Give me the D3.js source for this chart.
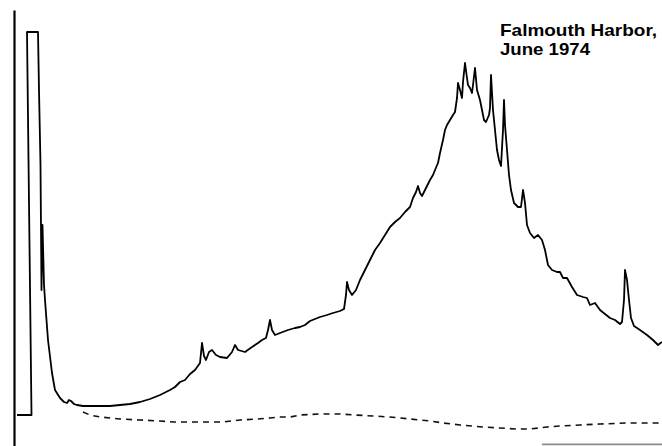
<!DOCTYPE html>
<html>
<head>
<meta charset="utf-8">
<script src="https://cdn.jsdelivr.net/npm/d3@7"></script>
<style>
  html, body { margin: 0; padding: 0; background: #fff; }
  svg { display: block; }
</style>
</head>
<body>
<svg id="chart" width="662" height="446"></svg>
<script>
// Falmouth Harbor, June 1974 — gas chromatogram trace (retention time in min, detector response in arbitrary units)

// sample trace: retention time
const sampleTime = [
  0.3, 1.75, 1.3, 2.4, 2.5, 2.65, 2.75, 2.85, 3.0, 3.1, 3.4, 3.8, 4.1, 4.6, 5.0, 5.3, 5.5, 5.7, 6.0, 6.3,
  6.9, 7.6, 8.6, 9.6, 10.6, 11.6, 12.6, 13.6, 14.6, 15.6, 16.1, 16.6, 17.1, 17.6, 18.1, 18.6, 18.8, 19.0, 19.2, 19.5,
  19.8, 20.2, 20.6, 21.3, 21.8, 22.1, 22.4, 23.1, 23.8, 24.4, 24.8, 25.2, 25.4, 25.6, 25.8, 26.1, 26.6, 27.4, 28.1, 28.6,
  29.1, 29.6, 30.1, 30.6, 31.3, 31.9, 32.6, 33.0, 33.2, 33.3, 33.5, 33.8, 34.2, 34.6, 35.1, 35.6, 36.1, 36.6, 37.1, 37.6,
  38.1, 38.6, 39.1, 39.6, 39.9, 40.2, 40.4, 40.6, 40.8, 41.1, 41.6, 41.9, 42.1, 42.4, 42.6, 42.9, 43.1, 43.3, 43.6, 43.9,
  44.1, 44.3, 44.4, 44.6, 44.8, 44.9, 45.1, 45.3, 45.4, 45.6, 45.8, 45.9, 46.1, 46.3, 46.6, 46.8, 47.0, 47.2, 47.5, 47.6,
  47.7, 47.9, 48.1, 48.3, 48.5, 48.7, 48.9, 49.0, 49.1, 49.3, 49.5, 49.7, 50.0, 50.4, 50.7, 50.9, 51.1, 51.3, 51.6, 52.0,
  52.4, 52.8, 53.1, 53.4, 53.8, 54.3, 54.6, 54.9, 55.3, 55.8, 56.3, 56.9, 57.3, 57.6, 58.1, 58.6, 59.1, 59.6, 60.1, 60.6,
  60.8, 61.0, 61.1, 61.3, 61.5, 61.7, 62.0, 62.6, 63.3, 63.9, 64.4, 64.8
];

// sample trace: detector response (solvent peak runs off scale)
const sampleResponse = [
  7.75, 7.75, 103.5, 103.5, 89, 70.25, 39, 55.25, 40.25, 36.5, 26.5, 18.25, 14, 12, 11, 10.75, 11.5, 11.25, 10.5, 10.25,
  10, 10, 10, 10, 10.25, 10.5, 11, 11.75, 12.75, 14, 14.75, 16, 16.5, 18, 19, 20.75, 25.75, 22.5, 21.5, 23.5,
  24, 22.75, 22.25, 22, 23.5, 25.25, 24, 23.5, 24.75, 25.75, 26.5, 27, 29, 31.5, 29, 27.75, 28.25, 29, 29.5, 29.75,
  30.25, 31.25, 31.75, 32.25, 32.75, 33.25, 33.75, 34.25, 37.75, 41, 39, 37.75, 39, 41.5, 44, 46.5, 49, 50.75, 52.75, 54.75,
  56, 57, 58.5, 59.75, 62, 63.5, 65, 63.25, 62.5, 64, 66.5, 67.75, 69, 70.75, 73.25, 76.5, 79, 80.25, 81.5, 82.75,
  83.5, 87, 90.75, 89, 87, 91, 95.75, 92, 90.25, 89.5, 88.25, 90.25, 94.5, 89, 86.5, 84, 81.5, 81, 82.75, 84.5,
  92.75, 84, 79, 74, 71.5, 70, 79, 86.5, 80.25, 74, 67.75, 64, 60.75, 59.75, 59.75, 64, 60.75, 55.25, 53.25, 52,
  52.75, 51.5, 49, 45.25, 44, 43.5, 43.5, 42, 42, 39.75, 37.75, 37.25, 37, 35.25, 35.75, 34, 33, 32, 31.5, 30.5,
  31, 36.5, 44, 41.5, 36.5, 32, 30, 29, 27.75, 26.5, 25.25, 26
];

// blank run (dashed): retention time and response
const blankTime = [
  6.9, 7.6, 8.6, 10.6, 12.6, 14.6, 15.9, 18.6, 20.9, 22.6, 24.3, 25.6, 26.6, 27.6, 28.6, 30.6, 32.6, 34.1, 35.9, 37.6,
  39.6, 41.6, 42.9, 44.6, 46.9, 48.6, 50.3, 51.6, 53.3, 54.6, 56.6, 58.6, 61.3, 63.1, 64.8
];
const blankResponse = [
  8.5, 7.75, 7.25, 6.75, 6.5, 6.25, 6, 6, 6, 6.5, 6.75, 7, 7.25, 7.25, 7.75, 8, 8, 7.75, 7.5, 7.25,
  6.75, 6.25, 5.75, 5.25, 4.75, 4.5, 4.25, 4.25, 4.75, 5, 5.25, 5.5, 5.75, 5.75, 5.75
];

// scale bar at lower right (time span and level)
const scaleBarTime = [52.8, 64.8];
const scaleBarLevel = 0.4;

const titleLines = ["Falmouth Harbor,", "June 1974"];

const svg = d3.select("#chart");

const x = d3.scaleLinear().domain([0, 64.8]).range([14, 662]);
const y = d3.scaleLinear().domain([0, 109]).range([446, 10]);

const sample = sampleTime.map((t, i) => [t, sampleResponse[i]]);
const blank = blankTime.map((t, i) => [t, blankResponse[i]]);

const line = d3.line().x(d => x(d[0])).y(d => y(d[1]));

// vertical response axis, no ticks
const yAxis = svg.append("g")
  .attr("transform", `translate(${x(0)},0)`)
  .call(d3.axisLeft(y).tickValues([]).tickSizeOuter(0));
yAxis.select(".domain").attr("stroke", "#000").attr("stroke-width", 2.2);

// blank trace
svg.append("path")
  .datum(blank)
  .attr("fill", "none")
  .attr("stroke", "#111")
  .attr("stroke-width", 1.6)
  .attr("stroke-dasharray", "6,5")
  .attr("d", line);

// sample trace
svg.append("path")
  .datum(sample)
  .attr("fill", "none")
  .attr("stroke", "#000")
  .attr("stroke-width", 1.8)
  .attr("stroke-linejoin", "round")
  .attr("d", line);

// scale bar
svg.append("line")
  .attr("x1", x(scaleBarTime[0])).attr("x2", x(scaleBarTime[1]))
  .attr("y1", y(scaleBarLevel)).attr("y2", y(scaleBarLevel))
  .attr("stroke", "#8a8a8a").attr("stroke-width", 1.6);

// title, two lines, set tight to the upper right corner
const titleX = 500;
const titleWidths = [157, 90];
svg.append("g")
  .attr("font-family", "'Liberation Sans', Arial, Helvetica, sans-serif")
  .attr("font-weight", "bold")
  .attr("font-size", 16.5)
  .attr("fill", "#000")
  .selectAll("text").data(titleLines).join("text")
  .attr("x", titleX)
  .attr("y", (d, i) => 36 + i * 19)
  .attr("textLength", (d, i) => titleWidths[i])
  .attr("lengthAdjust", "spacingAndGlyphs")
  .text(d => d);
</script>
</body>
</html>
